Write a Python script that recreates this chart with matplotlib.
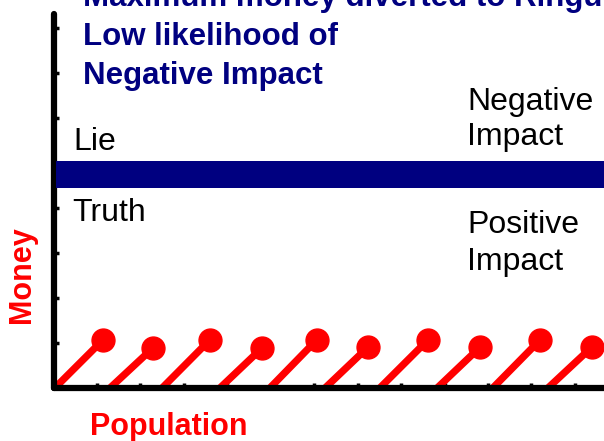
import matplotlib
matplotlib.use("Agg")
import matplotlib.pyplot as plt

# --- data (tick units on both axes) ---
seg_start_x = [0.03, 1.30, 2.50, 3.83, 4.98, 6.25, 7.51, 8.83, 10.11, 11.38]
seg_end_x = [1.14, 2.29, 3.60, 4.80, 6.06, 7.24, 8.62, 9.82, 11.20, 12.39]
seg_end_y = [1.07, 0.89, 1.07, 0.89, 1.07, 0.91, 1.07, 0.91, 1.07, 0.91]

bar_low, bar_high = 4.44, 5.04
x_ticks = list(range(1, 13))
y_ticks = list(range(1, 9))

title_lines = ["Maximum money diverted to Ringu", "Low likelihood of", "Negative Impact"]

W, H = 604, 441
NAVY = "#000080"
RED = "#FF0000"

plt.rcParams["font.family"] = ["Liberation Sans", "DejaVu Sans"]

fig = plt.figure(figsize=(W / 100, H / 100), dpi=100)
fig.patch.set_facecolor("white")

x0, y0 = 53.5, 388  # axis origin in pixels
ax = fig.add_axes([x0 / W, (H - y0) / H, (W - x0) / W, (y0 - 14) / H])
ax.set_xlim(0, (W - x0) / 43.45)
ax.set_ylim(0, (y0 - 14) / 45)

# navy divider
ax.barh((bar_low + bar_high) / 2, ax.get_xlim()[1], height=bar_high - bar_low,
        left=0.05, color=NAVY, zorder=3)

# red pins
for sx, ex, ey in zip(seg_start_x, seg_end_x, seg_end_y):
    ax.plot([sx, ex], [0, ey], color=RED, linewidth=5.2, solid_capstyle="butt",
            clip_on=False, zorder=2)
ax.plot(seg_end_x, seg_end_y, "o", color=RED, markersize=16.5, clip_on=False, zorder=2)

# axes look
for s in ["top", "right"]:
    ax.spines[s].set_visible(False)
for s in ["left", "bottom"]:
    ax.spines[s].set_linewidth(4.5)
    ax.spines[s].set_color("black")
    ax.spines[s].set_capstyle("round")
ax.set_xticks(x_ticks)
ax.set_yticks(y_ticks)
ax.tick_params(direction="in", length=3.5, width=2.5, labelbottom=False, labelleft=False)


def put(x, y, s, **kw):
    fig.text(x / W, 1 - y / H, s, va="baseline", ha="left", **kw)


# title block
for i, line in enumerate(title_lines):
    put(83, 6 + 39 * i, line, color=NAVY, fontsize=22.5, fontweight="bold")

put(73, 150, "Lie", color="black", fontsize=23)
put(72, 221, "Truth", color="black", fontsize=23)
put(467, 110, "Negative", color="black", fontsize=23)
put(467, 145, "Impact", color="black", fontsize=23)
put(467, 233, "Positive", color="black", fontsize=23)
put(467, 270, "Impact", color="black", fontsize=23)

# axis labels
fig.text(169 / W, 1 - 435 / H, "Population", color=RED, fontsize=22, fontweight="bold",
         ha="center", va="baseline")
fig.text(22 / W, 1 - 275 / H, "Money", color=RED, fontsize=22, fontweight="bold",
         ha="center", va="center", rotation=90)

fig.savefig("out.png", dpi=100)
